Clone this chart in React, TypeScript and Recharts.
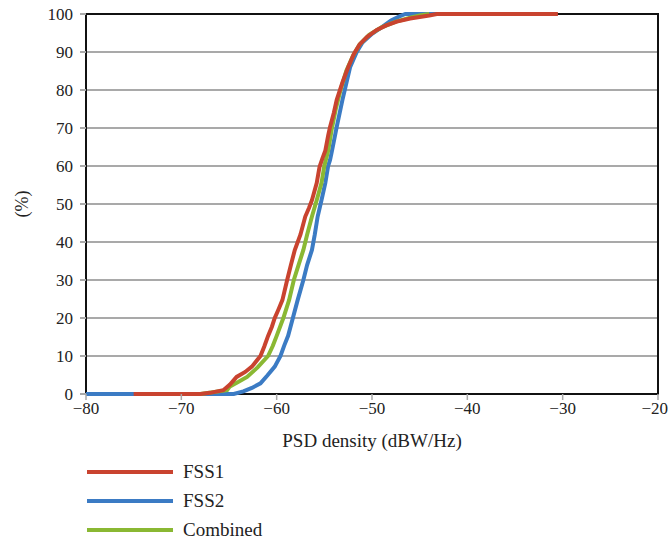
import React from 'react';
import { LineChart, Line, XAxis, YAxis, CartesianGrid, Legend, ReferenceArea, Label } from 'recharts';

const fss1Psd = [-75, -68, -67, -65.6, -64.9, -64.2, -63.3, -62.6, -61.7, -61.3, -60.9, -60.5, -60.2, -59.8, -59.4, -58.9, -58.5, -58.1, -57.5, -57, -56.6, -56.3, -55.8, -55.5, -55.2, -54.9, -54.6, -54.4, -54, -53.7, -53.1, -52.5, -51.9, -51.3, -50.5, -49.5, -48.5, -47.4, -46, -45, -44, -43.2, -30.5];
const fss1Pct = [0, 0, 0.3, 1, 2.5, 4.5, 5.8, 7.2, 10, 12.5, 15.3, 17.7, 20, 22.3, 24.7, 30, 34, 37.9, 42, 46.7, 49, 51, 55.5, 59.8, 62, 64, 68, 70.3, 74, 77.4, 82, 86, 89.5, 92, 94, 95.8, 97, 98, 98.8, 99.2, 99.6, 100, 100];

const fss2Psd = [-80, -64.5, -63.5, -62.6, -61.7, -61, -60.2, -59.6, -59.2, -58.8, -58.3, -57.8, -57.2, -56.8, -56.3, -56, -55.7, -55.3, -54.9, -54.6, -54.4, -54.2, -53.7, -53.1, -52.3, -51.6, -51, -50, -49, -48, -47, -46.5, -38];
const fss2Pct = [0, 0, 0.7, 1.6, 2.8, 4.8, 7.2, 10, 12.8, 15.3, 20, 24.7, 30, 34, 37.9, 42, 46.7, 51, 55.5, 60, 61.6, 64, 70.3, 77.4, 86, 90, 92.5, 94.8, 96.5, 98.3, 99.5, 100, 100];

const combinedPsd = [-68, -65.2, -64.9, -64, -63.1, -62, -60.9, -60.4, -60, -59.3, -58.7, -58.2, -57.7, -57.2, -56.8, -56.3, -55.8, -55.3, -55, -54.6, -54.2, -53.8, -53.3, -52.7, -52, -51.3, -50.3, -49, -47.5, -46, -45, -44];
const combinedPct = [0, 1, 2, 3.2, 4.5, 7, 10, 12.7, 15.3, 20, 24.7, 30, 34, 37.9, 42, 46.7, 51, 55.5, 60, 64, 70, 75, 80, 85, 89, 92, 94.5, 96.5, 98, 99, 99.6, 100];

const xTicks = [-80, -70, -60, -50, -40, -30, -20];
const yTicks = [0, 10, 20, 30, 40, 50, 60, 70, 80, 90, 100];

const seriesNames = ['FSS1', 'FSS2', 'Combined'];
const seriesColors = ['#c9432f', '#3b7bc4', '#8ab833'];

const toPoints = (xs: number[], ys: number[]) => xs.map((x, i) => ({ x, y: ys[i] }));

const fss1Data = toPoints(fss1Psd, fss1Pct);
const fss2Data = toPoints(fss2Psd, fss2Pct);
const combinedData = toPoints(combinedPsd, combinedPct);

const FONT = 'serif';

const fmt = (v: number) => (v < 0 ? `\u2212${Math.abs(v)}` : `${v}`);

const YTitle = ({ viewBox }: any) => {
  const cy = viewBox.y + viewBox.height / 2;
  return (
    <text x={22} y={cy} transform={`rotate(-90 22 ${cy})`} textAnchor="middle" dominantBaseline="central"
      fontSize={18} fill="#222">
      (%)
    </text>
  );
};

const renderLegend = () => (
  <div style={{ fontSize: 19, color: '#222' }}>
    {seriesNames.map((name, i) => (
      <div key={name} style={{ display: 'flex', alignItems: 'center', height: 29 }}>
        <span style={{ display: 'inline-block', width: 86, height: 4, background: seriesColors[i], marginRight: 10 }} />
        <span>{name}</span>
      </div>
    ))}
  </div>
);

export default function App() {
  return (
    <div className="cdf" style={{ position: 'absolute', left: 0, top: 0, width: 668, height: 544, background: '#fff' }}>
      <style>{`.cdf, .cdf text, .cdf div, .cdf span { font-family: "Liberation Serif", serif !important; }`}</style>
      <LineChart width={668} height={544} margin={{ top: 14, right: 10, left: 0, bottom: 94 }}>
        <CartesianGrid horizontal vertical={false} stroke="#a9a9a9" strokeWidth={2} />
        <XAxis
          type="number"
          dataKey="x"
          domain={[-80, -20]}
          ticks={xTicks}
          tickFormatter={fmt}
          allowDataOverflow
          height={56}
          tickSize={6}
          tickMargin={2}
          tickLine={{ stroke: '#a9a9a9', strokeWidth: 1.5 }}
          axisLine={false}
          tick={{ fontSize: 17, fill: '#222', fontFamily: FONT }}
        >
          <Label value="PSD density (dBW/Hz)" position="insideBottom" offset={3}
            fontSize={19} fill="#222" />
        </XAxis>
        <YAxis
          type="number"
          dataKey="y"
          domain={[0, 100]}
          ticks={yTicks}
          width={86}
          tickSize={6}
          tickMargin={7}
          tickLine={{ stroke: '#a9a9a9', strokeWidth: 2 }}
          axisLine={false}
          tick={{ fontSize: 17, fill: '#222', fontFamily: FONT }}
        >
          <Label content={YTitle} />
        </YAxis>
        <Line data={fss2Data} dataKey="y" name="FSS2" type="linear" stroke={seriesColors[1]} strokeWidth={4} dot={false} isAnimationActive={false} />
        <Line data={combinedData} dataKey="y" name="Combined" type="linear" stroke={seriesColors[2]} strokeWidth={4} dot={false} isAnimationActive={false} />
        <Line data={fss1Data} dataKey="y" name="FSS1" type="linear" stroke={seriesColors[0]} strokeWidth={4} dot={false} isAnimationActive={false} />
        <ReferenceArea x1={-80} x2={-20} y1={0} y2={100} fill="none" stroke="#111" strokeWidth={2} fillOpacity={0} />
        <Legend
          layout="horizontal"
          verticalAlign="middle"
          align="center"
          content={renderLegend}
          wrapperStyle={{ left: 87, top: 457, width: 250, height: 90 }}
        />
      </LineChart>
    </div>
  );
}
